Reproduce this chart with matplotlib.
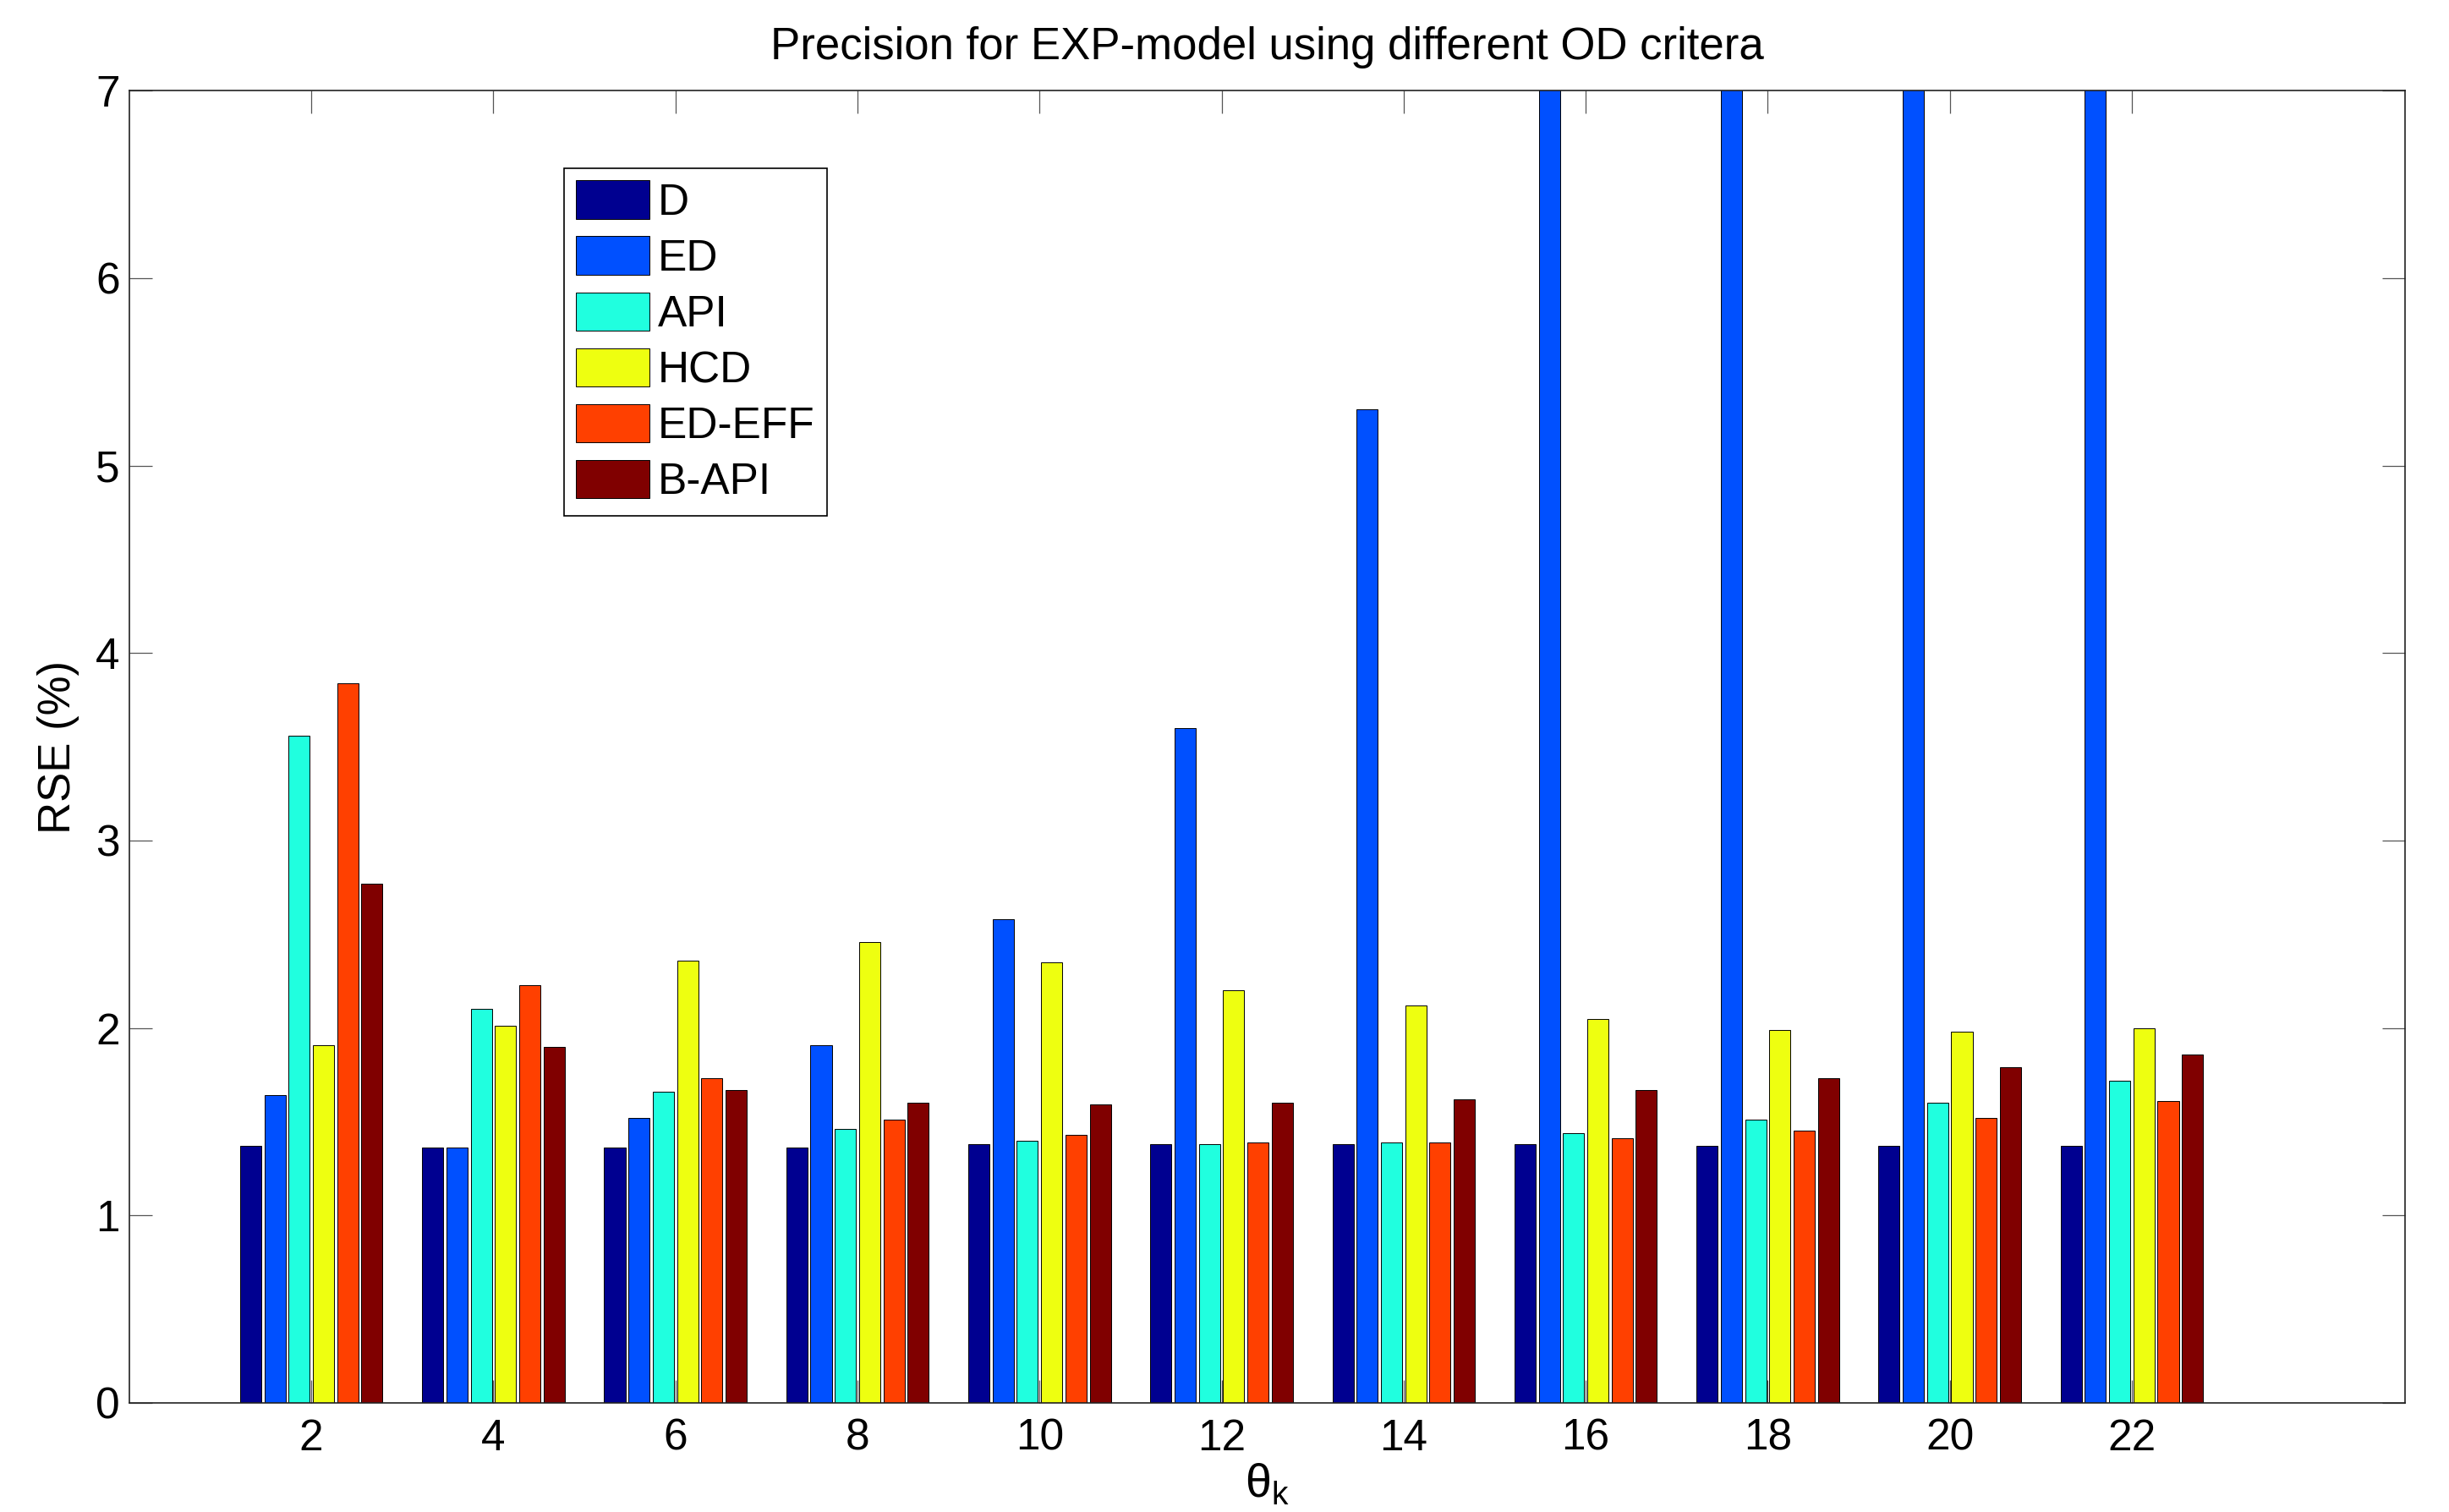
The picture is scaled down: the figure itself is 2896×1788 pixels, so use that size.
import matplotlib

matplotlib.use("Agg")
import matplotlib.pyplot as plt
import numpy as np

# theta_k groups on the x axis
thetaK = [2, 4, 6, 8, 10, 12, 14, 16, 18, 20, 22]

# RSE (%) for each OD criterion (ED clips above 7)
rseD = [1.37, 1.36, 1.36, 1.36, 1.38, 1.38, 1.38, 1.38, 1.37, 1.37, 1.37]
rseEd = [1.64, 1.36, 1.52, 1.91, 2.58, 3.60, 5.30, 8.4, 10.1, 12.6, 15.3]
rseApi = [3.56, 2.10, 1.66, 1.46, 1.40, 1.38, 1.39, 1.44, 1.51, 1.60, 1.72]
rseHcd = [1.91, 2.01, 2.36, 2.46, 2.35, 2.20, 2.12, 2.05, 1.99, 1.98, 2.00]
rseEdEff = [3.84, 2.23, 1.73, 1.51, 1.43, 1.39, 1.39, 1.41, 1.45, 1.52, 1.61]
rseBApi = [2.77, 1.90, 1.67, 1.60, 1.59, 1.60, 1.62, 1.67, 1.73, 1.79, 1.86]

seriesNames = ["D", "ED", "API", "HCD", "ED-EFF", "B-API"]
seriesColors = ["#000090", "#0050FF", "#20FFDF", "#EEFF10", "#FF4000", "#800000"]

yTicks = [0, 1, 2, 3, 4, 5, 6, 7]


# Draws one grouped bar set, MATLAB style (group width 0.8 of spacing).
def plotGroupedBars(ax, xValues, seriesList):
    xArray = np.asarray(xValues, dtype=float)
    spacing = 2.0
    seriesCount = len(seriesList)
    pitch = 0.8 * spacing / seriesCount
    barWidth = 0.233
    for seriesIndex, values in enumerate(seriesList):
        offset = (seriesIndex - (seriesCount - 1) / 2.0) * pitch
        ax.bar(
            xArray + offset,
            values,
            width=barWidth,
            color=seriesColors[seriesIndex],
            edgecolor="black",
            linewidth=0.7,
            label=seriesNames[seriesIndex],
            zorder=2,
        )


def runPlot():
    plt.rcParams["font.family"] = ["Liberation Sans", "DejaVu Sans"]
    plt.rcParams["mathtext.fontset"] = "custom"
    plt.rcParams["mathtext.rm"] = "Liberation Sans"
    fig = plt.figure(figsize=(28.96, 17.88), dpi=100)
    ax = fig.add_axes([0.0528, 0.0722, 0.9292, 0.8678])

    plotGroupedBars(
        ax,
        thetaK,
        [rseD, rseEd, rseApi, rseHcd, rseEdEff, rseBApi],
    )

    ax.set_xlim(0, 25)
    ax.set_ylim(0, 7)
    ax.set_xticks(thetaK)
    ax.set_yticks(yTicks)
    ax.tick_params(
        axis="both",
        direction="in",
        length=19.5,
        width=0.9,
        color="#555555",
        labelsize=37,
        top=True,
        right=True,
        zorder=3,
    )
    ax.tick_params(axis="x", pad=13)
    ax.tick_params(axis="y", pad=8)
    for spine in ax.spines.values():
        spine.set_linewidth(1.2)
        spine.set_color("#222222")
        spine.set_zorder(4)

    ax.set_title(
        "Precision for EXP-model using different OD critera",
        fontsize=38,
        pad=27,
    )
    ax.set_ylabel("RSE (%)", fontsize=38, labelpad=14)
    ax.set_xlabel(r"θ$_{\mathrm{k}}$", fontsize=40, labelpad=2)

    legend = ax.legend(
        loc="upper left",
        bbox_to_anchor=(0.191, 0.941),
        fontsize=37,
        fancybox=False,
        framealpha=1.0,
        edgecolor="black",
        handlelength=1.68,
        handleheight=0.98,
        handletextpad=0.2,
        labelspacing=0.29,
        borderpad=0.28,
        borderaxespad=0.0,
    )
    legend.get_frame().set_linewidth(1.2)

    fig.savefig("out.png", dpi=100)
    plt.close(fig)


if __name__ == "__main__":
    runPlot()
